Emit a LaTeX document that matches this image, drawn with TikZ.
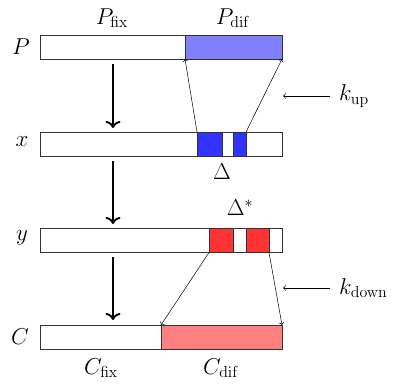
\documentclass[tikz,border=0pt]{standalone}
\usepackage{graphicx}
\usetikzlibrary{arrows.meta}
\newcommand{\lblsz}[1]{\scalebox{1.33}{\LARGE #1}}
\begin{document}
\begin{tikzpicture}[x=1pt,y=-1pt,
  bar/.style={draw=black!80,line width=0.8pt,rectangle,inner sep=0,outer sep=0,minimum height=24pt},
  lbl/.style={inner sep=1pt},
  thin/.style={->,line width=0.5pt},
  thick/.style={-{To[length=7pt,width=15pt]},line width=1.9pt}]
\useasboundingbox (0,0) rectangle (395,385);
% P bar
\node[bar,minimum width=242pt] (Pbar) at (161,47) {};
\node[bar,fill=blue!50,minimum width=97pt] (Pdif) at (233.5,47) {};
% x bar
\node[bar,minimum width=242pt] (xbar) at (161,144) {};
\node[bar,fill=blue!80,minimum width=25pt] (xb1) at (209.5,144) {};
\node[bar,fill=blue!80,minimum width=13pt] (xb2) at (239.5,144) {};
% y bar
\node[bar,minimum width=242pt] (ybar) at (161,240.5) {};
\node[bar,fill=red!80,minimum width=24pt] (yb1) at (221,240.5) {};
\node[bar,fill=red!80,minimum width=23pt] (yb2) at (257.5,240.5) {};
% C bar
\node[bar,minimum width=242pt] (Cbar) at (161,337) {};
\node[bar,fill=red!50,minimum width=121pt] (Cdif) at (221.5,337) {};
% labels
\node[lbl] (lP) at (21,47) {\lblsz{$P$}};
\node[lbl] (lx) at (22,142) {\lblsz{$x$}};
\node[lbl] (ly) at (22,238) {\lblsz{$y$}};
\node[lbl] (lC) at (20,337) {\lblsz{$C$}};
\node[lbl] (lPfix) at (112,18) {\lblsz{$P_{\mathrm{fix}}$}};
\node[lbl] (lPdif) at (233,18) {\lblsz{$P_{\mathrm{dif}}$}};
\node[lbl] (lD) at (222,172) {\lblsz{$\Delta$}};
\node[lbl] (lDs) at (240,208) {\lblsz{$\Delta^{*}$}};
\node[lbl] (lCfix) at (101,368) {\lblsz{$C_{\mathrm{fix}}$}};
\node[lbl] (lCdif) at (221,368) {\lblsz{$C_{\mathrm{dif}}$}};
\node[lbl,anchor=west,inner xsep=9pt] (kup) at (330,96) {\lblsz{$k_{\mathrm{up}}$}};
\node[lbl,anchor=west,inner xsep=9pt] (kdown) at (330,288) {\lblsz{$k_{\mathrm{down}}$}};
% thin connectors
\draw[thin] (xb1.north west) -- (Pdif.south west);
\draw[thin] (xb2.north east) -- (Pdif.south east);
\draw[thin] (yb1.south west) -- (Cdif.north west);
\draw[thin] (yb2.south east) -- (Cdif.north east);
% k arrows
\coordinate (kupEnd) at (283,96);
\coordinate (kdEnd) at (283,288);
\draw[thin] (kup.west) -- (kupEnd);
\draw[thin] (kdown.west) -- (kdEnd);
% thick arrows
\coordinate (a1) at (113,64); \coordinate (a2) at (113,128);
\coordinate (b1) at (113,161); \coordinate (b2) at (113,224);
\coordinate (c1) at (113,257); \coordinate (c2) at (113,320);
\draw[thick] (a1) -- (a2);
\draw[thick] (b1) -- (b2);
\draw[thick] (c1) -- (c2);
\end{tikzpicture}
\end{document}
